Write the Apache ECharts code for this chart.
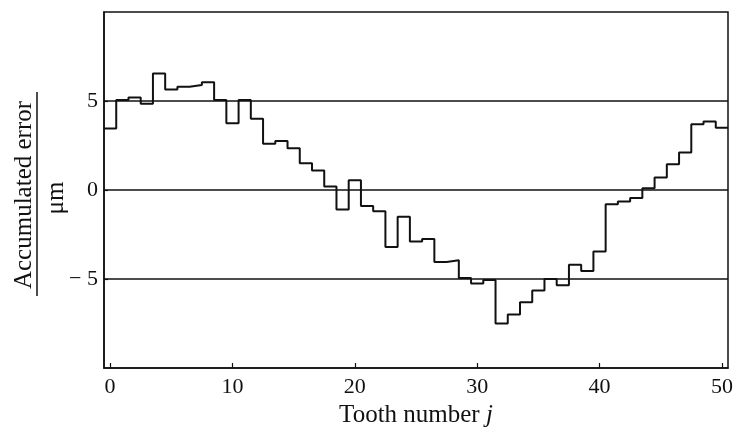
<!DOCTYPE html>
<html>
<head>
<meta charset="utf-8">
<script src="https://cdn.jsdelivr.net/npm/echarts@6/dist/echarts.min.js"></script>
<style>
  html, body { margin: 0; padding: 0; background: #fff; }
  #chart { width: 734px; height: 428px; }
</style>
</head>
<body>
<div id="chart"></div>
<script>
// Tooth number j, one held value per tooth (centred on j)
const teeth = [0, 1, 2, 3, 4, 5, 6, 7, 8, 9, 10, 11, 12, 13, 14, 15, 16, 17, 18, 19, 20,
  21, 22, 23, 24, 25, 26, 27, 28, 29, 30, 31, 32, 33, 34, 35, 36, 37, 38, 39, 40,
  41, 42, 43, 44, 45, 46, 47, 48, 49, 50];

// Accumulated pitch error per tooth, in micrometres
const accumulatedError = [3.45, 5.05, 5.2, 4.85, 6.55, 5.65, 5.8, 5.9, 6.05, 5.05,
  3.75, 5.05, 4.0, 2.6, 2.75, 2.35, 1.5, 1.1, 0.2, -1.1,
  0.55, -0.9, -1.2, -3.2, -1.5, -2.9, -2.75, -4.05, -3.95, -4.95,
  -5.25, -5.05, -7.5, -7.0, -6.3, -5.65, -5.0, -5.35, -4.2, -4.55,
  -3.45, -0.8, -0.65, -0.45, 0.1, 0.7, 1.45, 2.1, 3.7, 3.85,
  3.5];

const xTickValues = [0, 10, 20, 30, 40, 50];
const yTickValues = [-5, 0, 5];

// Each tooth's value is held from j - 0.5 to j + 0.5
const stepPoints = teeth.map((j, i) => [j - 0.5, accumulatedError[i]]);
stepPoints.push([teeth[teeth.length - 1] + 0.5, accumulatedError[accumulatedError.length - 1]]);

const ink = '#111';
const serif = '"Liberation Serif", "DejaVu Serif", serif';

const chart = echarts.init(document.getElementById('chart'), null, { renderer: 'canvas' });

chart.setOption({
  animation: false,
  backgroundColor: '#fff',
  grid: {
    left: 104, right: 6, top: 12, bottom: 60,
    containLabel: false, outerBoundsMode: 'none',
    show: true, borderColor: ink, borderWidth: 1.5, backgroundColor: 'transparent'
  },
  xAxis: {
    type: 'value',
    min: teeth[0] - 0.5,
    max: teeth[teeth.length - 1] + 0.5,
    name: '{n|Tooth number }{i|j}',
    nameLocation: 'middle',
    nameGap: 34,
    nameTextStyle: {
      rich: {
        n: { fontFamily: serif, fontSize: 25, color: ink },
        i: { fontFamily: serif, fontSize: 25, color: ink, fontStyle: 'italic' }
      }
    },
    axisLine: { show: true, onZero: false, lineStyle: { color: ink, width: 1.5 } },
    axisTick: { show: true, inside: true, length: 5, customValues: xTickValues, lineStyle: { color: ink, width: 1.2 } },
    axisLabel: {
      customValues: xTickValues,
      fontFamily: serif, fontSize: 22, color: ink, margin: 8
    },
    splitLine: { show: false }
  },
  yAxis: {
    type: 'value',
    min: -10, max: 10, interval: 5,
    axisLine: { show: true, onZero: false, lineStyle: { color: ink, width: 1.5 } },
    axisTick: { show: true, inside: true, length: 4, customValues: yTickValues, lineStyle: { color: ink, width: 1.2 } },
    axisLabel: {
      customValues: yTickValues,
      fontFamily: serif, fontSize: 22, color: ink, margin: 6,
      formatter: v => (v < 0 ? '\u2212 ' + (-v) : String(v))
    },
    splitLine: { show: true, lineStyle: { color: ink, width: 1.5 } }
  },
  graphic: [
    {
      type: 'text', x: 24, y: 195, rotation: Math.PI / 2,
      style: { text: 'Accumulated error', fontFamily: serif, fontSize: 25, fill: ink, align: 'center', verticalAlign: 'middle' }
    },
    {
      type: 'line', shape: { x1: 37, y1: 92, x2: 37, y2: 296 },
      style: { stroke: ink, lineWidth: 1.5 }
    },
    {
      type: 'text', x: 56, y: 198, rotation: Math.PI / 2,
      style: { text: '\u03bcm', fontFamily: serif, fontSize: 25, fill: ink, align: 'center', verticalAlign: 'middle' }
    }
  ],
  series: [
    {
      type: 'line',
      step: 'end',
      data: stepPoints,
      showSymbol: false,
      lineStyle: { color: ink, width: 2 },
      silent: true
    }
  ]
});
</script>
</body>
</html>
